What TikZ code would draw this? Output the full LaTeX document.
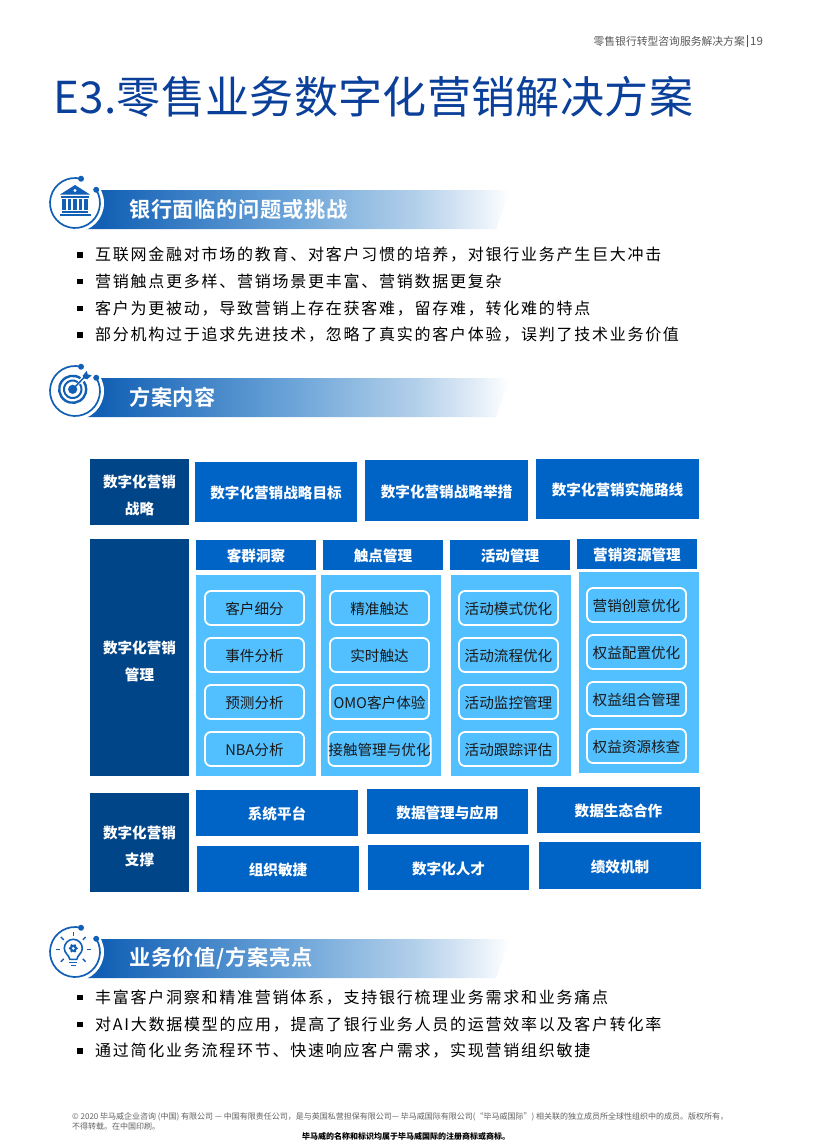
\documentclass[tikz,border=0pt]{standalone}
\usepackage{fontspec}
\usetikzlibrary{calc}
\setmainfont{Noto Sans CJK SC}
\newfontfamily\wide[LetterSpace=10.9]{Noto Sans CJK SC}
\newfontfamily\widebf[LetterSpace=3.2,BoldFont={Noto Sans CJK SC Bold}]{Noto Sans CJK SC}
\newfontfamily\titlef[LetterSpace=0.8]{Noto Sans CJK SC}
\definecolor{dark}{HTML}{004587}
\definecolor{mid}{HTML}{0063C6}
\definecolor{sky}{HTML}{52BFFF}
\definecolor{ring}{HTML}{1260B5}
\definecolor{titleblue}{HTML}{0A3F9A}
\definecolor{bandA}{HTML}{6AA3D8}
\definecolor{bandB}{HTML}{B3D0EA}
\definecolor{bandC}{HTML}{E5EFF8}
\pgfdeclarehorizontalshading{bannershade}{100bp}{
  color(0bp)=(ring); color(27bp)=(ring);
  color(49bp)=(bandA);
  color(64bp)=(bandB);
  color(71.5bp)=(bandC);
  color(75bp)=(white); color(100bp)=(white)}
\tikzset{
  x=1pt,y=-1pt,
  flat/.style={inner sep=0pt,outer sep=0pt,text=white,align=center},
  darkbox/.style={flat,fill=dark},
  darktext/.style={flat,font=\bfseries\fontsize{14.6}{27}\selectfont},
  bluebox/.style={flat,fill=mid,font=\bfseries\fontsize{14.6}{18}\selectfont,execute at begin node={\rule[-3pt]{0pt}{19pt}}},
  panel/.style={flat,fill=sky},
  pill/.style={flat,draw=white,line width=1.8pt,rounded corners=6pt,text=black!90,font=\fontsize{14.6}{18}\selectfont,execute at begin node={\rule[-3pt]{0pt}{19pt}}},
  bullettext/.style={anchor=west,inner sep=0pt,text=black,font=\wide\fontsize{16}{18}\selectfont},
  bulletmark/.style={fill=black,inner sep=0pt,minimum size=5.2pt},
  bannertext/.style={anchor=west,inner sep=0pt,text=white,font=\widebf\bfseries\fontsize{21.2}{24}\selectfont},
  iconline/.style={draw=ring,line width=1.7pt},
  smalltext/.style={anchor=west,inner sep=0pt,text=black!62,font=\fontsize{8}{9}\selectfont},
}
% name, style, x1, y1, x2, y2, text
\newcommand\bx[7]{%
  \pgfmathsetmacro\bxcx{(#3+#5)/2}\pgfmathsetmacro\bxcy{(#4+#6)/2}%
  \pgfmathsetmacro\bxw{#5-#3}\pgfmathsetmacro\bxh{#6-#4}%
  \node[#2,minimum width=\bxw pt,minimum height=\bxh pt] (#1) at (\bxcx,\bxcy) {#7};}
% banner with ring: banner top, ring center y
\newcommand\banner[2]{%
  \path[shading=bannershade] (85,#1) -- (510,#1) -- (496,#1+39) -- (85,#1+39) -- cycle;
  \fill[white] (75,#2) circle[radius=29];
  \begin{scope}[shift={(75,#2)},y=1pt]
    \draw[iconline] (76:25) arc[start angle=76,end angle=392,radius=25];
    \fill[ring] (76:25) circle[radius=3]; \fill[ring] (32:25) circle[radius=3];
  \end{scope}}
\begin{document}
\begin{tikzpicture}
\path[use as bounding box,fill=white] (0,0) rectangle (816,1145);
% header
\node[anchor=east,inner sep=0pt,text=black!65,font=\fontsize{10.8}{12}\selectfont] (hdr) at (745,41) {零售银行转型咨询服务解决方案};
\node[anchor=west,inner sep=0pt,text=black!65,font=\fontsize{11.5}{12}\selectfont] (pg) at (750,41) {19};
\draw[mid,line width=.9pt] (747.5,35) -- (747.5,47);
% title
\node[anchor=west,inner sep=0pt,text=titleblue,font=\titlef\fontsize{44}{50}\selectfont] (title) at (53,97) {E3.零售业务数字化营销解决方案};
% section 1
\banner{190}{203}
\begin{scope}[shift={(75,203)},y=1pt]
  \fill[ring] (0,18) -- (15,8.5) -- (-15,8.5) -- cycle;
  \fill[ring] (-14,7) rectangle (14,5);
  \foreach \c in {-11,-5.5,0,5.5,11}{\fill[ring] (\c-1.8,4) rectangle (\c+1.8,-7);}
  \fill[ring] (-13,-8) rectangle (13,-10);
  \fill[ring] (-15.5,-10.5) rectangle (15.5,-13);
  \fill[white] (0,12.5) circle[radius=1.6];
\end{scope}
\node[bannertext] (t1) at (129,209) {银行面临的问题或挑战};
\foreach \yy/\txt in {255/互联网金融对市场的教育、对客户习惯的培养，对银行业务产生巨大冲击,
  281.5/营销触点更多样、营销场景更丰富、营销数据更复杂,
  308.5/客户为更被动，导致营销上存在获客难，留存难，转化难的特点,
  335/部分机构过于追求先进技术，忽略了真实的客户体验，误判了技术业务价值}{
  \node[bulletmark] at (80,\yy) {};
  \node[bullettext] at (95,\yy) {\txt};
}
% section 2
\banner{378}{391}
\begin{scope}[shift={(72.7,389.3)},y=1pt]
  \draw[ring,line width=2.4pt] (55:13.5) arc[start angle=55,end angle=395,radius=13.5];
  \draw[ring,line width=2pt] (55:8.8) arc[start angle=55,end angle=395,radius=8.8];
  \fill[ring] (0,0) circle[radius=4.6];
  \draw[ring,line width=1.5pt] (0,0) -- (12,12.5);
  \fill[ring] (10,13.5) -- (14,18.5) -- (15,15) -- (19,14) -- (14.5,10) -- (11,11) -- cycle;
\end{scope}
\node[bannertext] (t2) at (129,397) {方案内容};
% strategy row
\bx{s0}{darkbox}{90}{459}{189}{525}{}
\node[darktext] (s0t) at ($(s0.center)+(0,3)$) {数字化营销\\战略};
\bx{s1}{bluebox}{195}{462}{357}{522}{数字化营销战略目标}
\bx{s2}{bluebox}{365}{460}{528}{521}{数字化营销战略举措}
\bx{s3}{bluebox}{536}{459}{699}{519}{数字化营销实施路线}
% management row
\bx{m0}{darkbox}{90}{539}{189}{776}{}
\node[darktext] (m0t) at ($(m0.center)+(0,3.5)$) {数字化营销\\管理};
\bx{h1}{bluebox}{196}{540}{316}{570}{客群洞察}
\bx{h2}{bluebox}{323}{540}{443}{570}{触点管理}
\bx{h3}{bluebox}{450}{540}{570}{570}{活动管理}
\bx{h4}{bluebox}{577}{539}{697}{569}{营销资源管理}
\bx{p1}{panel}{196}{575}{316}{776}{}
\bx{p2}{panel}{321}{575}{441}{776}{}
\bx{p3}{panel}{451}{575}{571}{776}{}
\bx{p4}{panel}{579}{572}{699}{773}{}
\foreach \nm/\xa/\ya/\txt in {a1/205/591/客户细分,a2/205/638/事件分析,a3/205/685/预测分析,a4/205/732/NBA分析,
  b1/330/591/精准触达,b2/330/638/实时触达,b3/330/685/OMO客户体验,b4/330/732/接触管理与优化,
  c1/459/591/活动模式优化,c2/459/638/活动流程优化,c3/459/685/活动监控管理,c4/459/732/活动跟踪评估,
  d1/587/588/营销创意优化,d2/587/635/权益配置优化,d3/587/682/权益组合管理,d4/587/729/权益资源核查}{
  \pgfmathsetmacro\xb{\xa+99}\pgfmathsetmacro\yb{\ya+34}
  \bx{\nm}{pill}{\xa}{\ya}{\xb}{\yb}{\txt}
}
% support row
\bx{u0}{darkbox}{90}{793}{189}{892}{}
\node[darktext] (u0t) at ($(u0.center)+(0,3.5)$) {数字化营销\\支撑};
\bx{u1}{bluebox}{196}{790}{358}{836}{系统平台}
\bx{u2}{bluebox}{367}{789}{528}{834}{数据管理与应用}
\bx{u3}{bluebox}{537}{787}{700}{833}{数据生态合作}
\bx{u4}{bluebox}{197}{846}{359}{892}{组织敏捷}
\bx{u5}{bluebox}{368}{845}{529}{890}{数字化人才}
\bx{u6}{bluebox}{539}{842}{701}{889}{绩效机制}
% section 3
\banner{939}{952}
\begin{scope}[shift={(73.3,949.3)},y=1pt]
  \draw[ring,line width=1.6pt] (-3.5,-10) .. controls (-4,-6) and (-9,-4) .. (-9,1) arc[start angle=180,end angle=0,radius=9] .. controls (9,-4) and (4,-6) .. (3.5,-10) -- cycle;
  \draw[ring,line width=1.6pt] (-4,-13) -- (4,-13);
  \draw[ring,line width=1.6pt] (-2.5,-16) -- (2.5,-16);
  \fill[ring] (0,1) circle[radius=3.6];
  \foreach \a in {0,60,...,300}{\fill[ring] ($(0,1)+(\a:3.4)$) circle[radius=1.3];}
  \fill[white] (0,1) circle[radius=1.5];
  \foreach \a in {0,45,90,135,180,225,315}{\draw[ring,line width=1.4pt] ($(0,0)+(\a:13.5)$) -- ($(0,0)+(\a:17.5)$);}
\end{scope}
\node[bannertext] (t3) at (129,958) {业务价值/方案亮点};
\foreach \yy/\txt in {997.5/丰富客户洞察和精准营销体系，支持银行梳理业务需求和业务痛点,
  1024.5/对AI大数据模型的应用，提高了银行业务人员的运营效率以及客户转化率,
  1051/通过简化业务流程环节、快速响应客户需求，实现营销组织敏捷}{
  \node[bulletmark] at (80,\yy) {};
  \node[bullettext] at (95,\yy) {\txt};
}
% footer
\node[smalltext] (f1) at (72,1116.5) {© 2020 毕马威企业咨询 (中国) 有限公司 — 中国有限责任公司，是与英国私营担保有限公司— 毕马威国际有限公司(“毕马威国际”) 相关联的独立成员所全球性组织中的成员。版权所有，};
\node[smalltext] (f2) at (72,1126) {不得转载。在中国印刷。};
\node[inner sep=0pt,text=black,font=\bfseries\fontsize{8}{9}\selectfont] (f3) at (406,1136) {毕马威的名称和标识均属于毕马威国际的注册商标或商标。};
\end{tikzpicture}
\end{document}
